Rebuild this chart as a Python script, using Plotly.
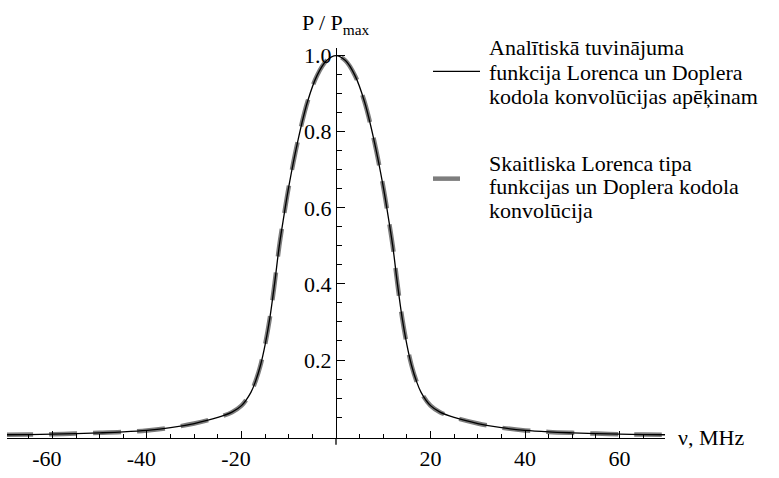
import plotly.graph_objects as go

# ---- data ----
freq_mhz = [-70, -65, -60, -55, -50, -45, -40, -35, -30, -25, -22, -20, -18, -17, -16, -15,
            -14, -13, -12, -11, -10, -8, -6, -4, -2, 0, 2, 4, 6, 8, 10, 11, 12, 13, 14, 15,
            16, 17, 18, 20, 22, 25, 30, 35, 40, 45, 50, 55, 60, 65, 70]
p_analytic = [0.0035, 0.004, 0.005, 0.0065, 0.0085, 0.011, 0.015, 0.022, 0.033, 0.049, 0.063,
              0.08, 0.115, 0.145, 0.185, 0.24, 0.31, 0.40, 0.50, 0.58, 0.655, 0.78, 0.88, 0.948,
              0.987, 1.0, 0.987, 0.948, 0.88, 0.78, 0.655, 0.58, 0.50, 0.40, 0.31, 0.24, 0.185,
              0.145, 0.115, 0.08, 0.063, 0.049, 0.033, 0.022, 0.015, 0.011, 0.0085, 0.0065,
              0.005, 0.004, 0.0035]
p_numeric = [0.0035, 0.004, 0.005, 0.0065, 0.0085, 0.011, 0.015, 0.022, 0.033, 0.049, 0.063,
             0.08, 0.115, 0.145, 0.185, 0.24, 0.31, 0.40, 0.50, 0.58, 0.655, 0.78, 0.88, 0.948,
             0.987, 1.0, 0.987, 0.948, 0.88, 0.78, 0.655, 0.58, 0.50, 0.40, 0.31, 0.24, 0.185,
             0.145, 0.115, 0.08, 0.063, 0.049, 0.033, 0.022, 0.015, 0.011, 0.0085, 0.0065,
             0.005, 0.004, 0.0035]

x_major = [-60, -40, -20, 20, 40, 60]
x_major_text = ["-60\u2007", "-40\u2007", "-20\u2007", "20", "40", "60"]
x_minor = [-65, -55, -50, -45, -35, -30, -25, -15, -10, -5, 5, 10, 15, 25, 30, 35, 45, 50, 55, 65]
y_major = [0.2, 0.4, 0.6, 0.8, 1.0]
y_major_text = ["0.2", "0.4", "0.6", "0.8", "1.0"]
y_minor = [0.05, 0.1, 0.15, 0.25, 0.3, 0.35, 0.45, 0.5, 0.55, 0.65, 0.7, 0.75, 0.85, 0.9, 0.95]

legend_analytic = ["Analītiskā tuvinājuma", "funkcija Lorenca un Doplera",
                   "kodola konvolūcijas apēķinam"]
legend_numeric = ["Skaitliska Lorenca tipa", "funkcijas un Doplera kodola", "konvolūcija"]

FONT = "Liberation Serif"
W, H = 779, 478
ML, MR, MT, MB = 7, 114, 48, 30
PW, PH = W - ML - MR, H - MT - MB
XR = [-69.6, 69.6]
YR = [-0.005, 1.02]
GRAY = "rgb(125,125,125)"


def px_x(p):
    return (p - ML) / PW


def px_y(p):
    return (H - MB - p) / PH


fig = go.Figure()
fig.add_trace(go.Scatter(x=freq_mhz, y=p_numeric, mode="lines", line_shape="spline",
                         line=dict(color=GRAY, width=4.5, dash="28px,16px"),
                         showlegend=False, hoverinfo="skip"))
fig.add_trace(go.Scatter(x=freq_mhz, y=p_analytic, mode="lines", line_shape="spline",
                         line=dict(color="black", width=1.3),
                         showlegend=False, hoverinfo="skip"))

annotations = [
    dict(x=0, xref="x", y=px_y(23), yref="paper", text="P / P<sub>max</sub>",
         showarrow=False, xanchor="center", yanchor="middle",
         font=dict(family=FONT, size=22, color="black")),
    dict(x=px_x(676), xref="paper", y=px_y(447), yref="paper", text="ν, MHz",
         showarrow=False, xanchor="left", yanchor="middle",
         font=dict(family=FONT, size=22, color="black")),
]
for txt, yc in zip(legend_analytic, [47, 73, 98]):
    annotations.append(dict(x=px_x(487), xref="paper", y=px_y(yc), yref="paper", text=txt,
                            showarrow=False, xanchor="left", yanchor="middle",
                            font=dict(family=FONT, size=22, color="black")))
for txt, yc in zip(legend_numeric, [166, 190, 215]):
    annotations.append(dict(x=px_x(487), xref="paper", y=px_y(yc), yref="paper", text=txt,
                            showarrow=False, xanchor="left", yanchor="middle",
                            font=dict(family=FONT, size=22, color="black")))

shapes = [
    dict(type="line", xref="paper", yref="paper", x0=px_x(433), x1=px_x(480),
         y0=px_y(72), y1=px_y(72), line=dict(color="black", width=1.3)),
    dict(type="line", xref="paper", yref="paper", x0=px_x(433), x1=px_x(460),
         y0=px_y(182), y1=px_y(182), line=dict(color=GRAY, width=4.5)),
    # small extension of the vertical axis below the horizontal axis
    dict(type="line", xref="x", yref="paper", x0=0, x1=0, y0=0, y1=px_y(455),
         line=dict(color="black", width=1.3)),
]

fig.update_layout(
    width=W, height=H,
    margin=dict(l=ML, r=MR, t=MT, b=MB, pad=0),
    paper_bgcolor="white", plot_bgcolor="white",
    showlegend=False,
    annotations=annotations, shapes=shapes,
    xaxis=dict(range=XR, showgrid=False, zeroline=False, showline=True, linecolor="black",
               linewidth=1.3, ticks="inside", ticklen=7, tickwidth=1.2, tickcolor="black",
               tickmode="array", tickvals=x_major, ticktext=x_major_text,
               tickfont=dict(family=FONT, size=22, color="black"),
               minor=dict(ticks="inside", ticklen=4, tickwidth=1.2, tickcolor="black",
                          tickmode="array", tickvals=x_minor, showgrid=False),
               fixedrange=True),
    yaxis=dict(range=YR, showgrid=False, zeroline=False, showline=True, linecolor="black",
               linewidth=1.3, anchor="free", position=(0 - XR[0]) / (XR[1] - XR[0]),
               side="left", ticks="inside", ticklen=8, tickwidth=1.2, tickcolor="black",
               tickmode="array", tickvals=y_major, ticktext=y_major_text,
               tickfont=dict(family=FONT, size=22, color="black"),
               minor=dict(ticks="inside", ticklen=5, tickwidth=1.2, tickcolor="black",
                          tickmode="array", tickvals=y_minor, showgrid=False),
               fixedrange=True),
)

fig.write_html("out.html")
